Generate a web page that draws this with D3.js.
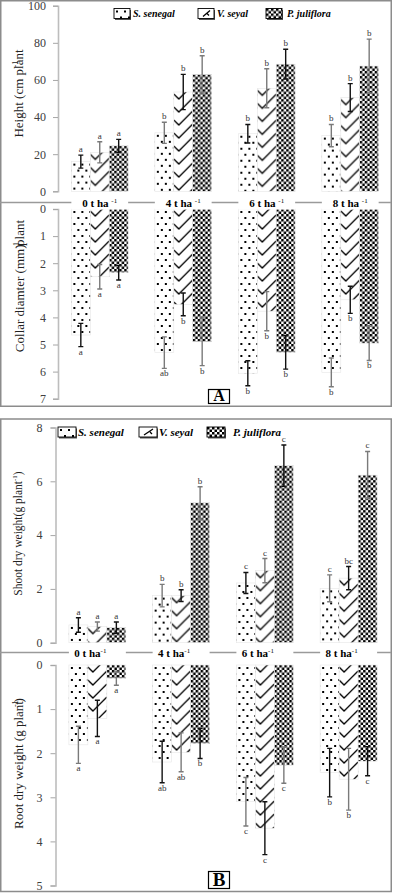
<!DOCTYPE html>
<html>
<head>
<meta charset="utf-8">
<script src="https://cdn.jsdelivr.net/npm/d3@7"></script>
<style>
  body { margin: 0; background: #fff; }
  svg { display: block; font-family: "Liberation Serif", "Times New Roman", serif; }
</style>
</head>
<body>
<div class="container"></div>
<script>
var categories = ["0", "4", "6", "8"];
var species = ["S. senegal", "V. seyal", "P. juliflora"];

// rows = dose (t/ha), columns = species
var heightMean = [[16, 21, 24.5], [31.5, 53.5, 63], [31, 55.5, 68.5], [30, 50.5, 67.5]];
var heightErr = [[3.5, 5.7, 3.5], [5.7, 9.5, 10], [5, 10.5, 8], [6, 7.5, 14.5]];
var heightLetters = [["a", "a", "a"], ["b", "b", "b"], ["b", "b", "b"], ["b", "b", "b"]];

var collarMean = [[4.65, 2.5, 2.35], [5.3, 3.52, 4.9], [6.06, 3.77, 5.29], [6.03, 3.35, 4.95]];
var collarErr = [[0.43, 0.45, 0.27], [0.58, 0.42, 0.88], [0.46, 0.72, 0.62], [0.53, 0.5, 0.64]];
var collarLetters = [["a", "a", "a"], ["ab", "b", "b"], ["b", "b", "b"], ["b", "b", "b"]];

var shootMean = [[0.66, 0.6, 0.56], [1.75, 1.75, 5.2], [2.22, 2.68, 6.58], [2.02, 2.4, 6.23]];
var shootErr = [[0.27, 0.17, 0.21], [0.42, 0.22, 0.6], [0.39, 0.45, 0.77], [0.5, 0.43, 0.88]];
var shootLetters = [["a", "a", "a"], ["b", "b", "b"], ["c", "c", "c"], ["c", "bc", "c"]];

var rootMean = [[1.81, 1.21, 0.3], [2.2, 1.98, 1.78], [3.1, 3.7, 2.27], [2.44, 2.59, 2.18]];
var rootErr = [[0.42, 0.41, 0.16], [0.47, 0.44, 0.34], [0.55, 0.6, 0.41], [0.55, 0.7, 0.33]];
var rootLetters = [["a", "a", "a"], ["ab", "ab", "b"], ["c", "c", "c"], ["b", "b", "c"]];

var heightTicks = [0, 20, 40, 60, 80, 100];
var collarTicks = [0, 1, 2, 3, 4, 5, 6, 7];
var shootTicks = [0, 2, 4, 6, 8];
var rootTicks = [0, 1, 2, 3, 4, 5];

const WIDTH = 393;
const HEIGHT = 893;

var svg = d3.select('.container').append('svg')
    .attr('width', WIDTH)
    .attr('height', HEIGHT);

var defs = svg.append('defs');
var patCount = 0;

// 0 = dots (S. senegal), 1 = check marks (V. seyal), 2 = checker (P. juliflora)
var makePattern = function(kind, x0, y0, w){
    var id = 'pat' + (patCount++);
    var p = defs.append('pattern').attr('id', id)
        .attr('patternUnits', 'userSpaceOnUse')
        .attr('x', x0).attr('y', y0);
    if (kind === 0) {
        p.attr('width', 8).attr('height', 12);
        p.append('rect').attr('width', 8).attr('height', 12).attr('fill', '#fff');
        p.append('rect').attr('x', 2).attr('y', 2).attr('width', 2).attr('height', 2).attr('fill', '#000');
        p.append('rect').attr('x', 6).attr('y', 8).attr('width', 2).attr('height', 2).attr('fill', '#000');
    } else if (kind === 1) {
        p.attr('width', w).attr('height', 13);
        p.append('rect').attr('width', w).attr('height', 13).attr('fill', '#fff');
        p.append('path')
            .attr('d', 'M0,2L5,7L' + w + ',' + (7 - (w - 5)) + 'M0,15L5,20L' + w + ',' + (20 - (w - 5)))
            .attr('fill', 'none').attr('stroke', '#000').attr('stroke-width', 1.3);
    } else {
        p.attr('width', 5).attr('height', 5);
        p.append('rect').attr('width', 5).attr('height', 5).attr('fill', '#fff');
        p.append('rect').attr('width', 2.5).attr('height', 2.5).attr('fill', '#000');
        p.append('rect').attr('x', 2.5).attr('y', 2.5).attr('width', 2.5).attr('height', 2.5).attr('fill', '#000');
    }
    return 'url(#' + id + ')';
};

var drawChart = function(o){
    var x = d3.scaleBand().domain(categories).range(o.xRange).paddingInner(0.32).paddingOuter(0.16);
    var xs = d3.scaleBand().domain(species).range([0, x.bandwidth()]);
    var y = d3.scaleLinear().domain([0, d3.max(o.ticks)]).range(o.yRange);

    var axis = svg.append('g')
        .attr('transform', 'translate(' + o.xRange[0] + ',0)')
        .call(d3.axisLeft(y).tickValues(o.ticks).tickFormat(d3.format('d')).tickSize(5).tickPadding(o.pad))
        .attr('font-family', '"Liberation Serif", serif')
        .attr('font-size', 12);
    axis.select('.domain').attr('stroke', '#bdbdbd').attr('stroke-width', 1.6);
    axis.selectAll('.tick line').attr('stroke', '#a6a6a6');
    axis.selectAll('.tick text').attr('fill', '#404040');

    var rows = [];
    categories.forEach(function(c, i){
        species.forEach(function(s, j){
            rows.push({cat: c, sp: s, k: j, gi: i, v: o.mean[i][j], e: o.err[i][j], l: o.letters[i][j]});
        });
    });

    var g = svg.append('g');
    rows.forEach(function(d){
        var bx = x(d.cat) + xs(d.sp);
        var y0 = y(0), yv = y(d.v);
        g.append('rect')
            .attr('x', bx).attr('width', xs.bandwidth())
            .attr('y', Math.min(y0, yv)).attr('height', Math.abs(yv - y0))
            .attr('fill', makePattern(d.k, bx, Math.min(y0, yv), xs.bandwidth()))
            .attr('stroke', '#e6e6e6').attr('stroke-width', 0.6);
    });

    rows.forEach(function(d){
        var cx = x(d.cat) + xs(d.sp) + xs.bandwidth() / 2;
        var lo = y(d.v - d.e), hi = y(d.v + d.e);
        var col = ((d.gi + d.k + o.parity) % 2) ? '#7a7a7a' : '#111';
        g.append('path')
            .attr('d', 'M' + cx + ',' + lo + 'V' + hi + 'M' + (cx - 2.5) + ',' + lo + 'h5M' + (cx - 2.5) + ',' + hi + 'h5')
            .attr('stroke', col).attr('stroke-width', 1.4).attr('fill', 'none');
        var ty = o.down ? Math.max(lo, hi) + 8 : Math.min(lo, hi) - 3;
        g.append('text')
            .attr('x', cx).attr('y', ty)
            .attr('text-anchor', 'middle')
            .attr('font-size', 9).attr('fill', '#333')
            .text(d.l);
    });
    return x;
};

var drawCatLabels = function(x, yLine, shift, sup){
    svg.append('line')
        .attr('x1', 0).attr('x2', 391).attr('y1', yLine).attr('y2', yLine)
        .attr('stroke', '#9a9a9a').attr('stroke-width', 1.5);
    categories.forEach(function(c){
        svg.append('rect')
            .attr('x', x(c)).attr('y', yLine - 7).attr('width', x.bandwidth()).attr('height', 14)
            .attr('fill', '#fff');
        var t = svg.append('text')
            .attr('x', x(c) + x.bandwidth() / 2 + shift).attr('y', yLine + 4)
            .attr('text-anchor', 'middle').attr('font-weight', 'bold').attr('font-size', 11)
            .text(c + ' t ha' + sup);
        t.append('tspan').attr('dy', -4).attr('font-size', 7).attr('font-weight', 'normal').text('-1');
    });
};

var drawYLabel = function(cx, cy, size, parts){
    var t = svg.append('text')
        .attr('transform', 'translate(' + cx + ',' + cy + ') rotate(-90)')
        .attr('text-anchor', 'middle').attr('font-size', size).attr('fill', '#222');
    parts.forEach(function(p){
        var s = t.append('tspan').text(p.t);
        if (p.dx) s.attr('dx', p.dx);
        if (p.dy) s.attr('dy', p.dy);
        if (p.fs) s.attr('font-size', p.fs);
    });
};

var drawLegend = function(yc, swX, txX, swW, fs){
    species.forEach(function(s, j){
        var top = yc - 5;
        svg.append('rect').attr('x', swX[j] + 1).attr('y', top + 1.5).attr('width', swW).attr('height', 10)
            .attr('fill', '#555');
        svg.append('rect').attr('x', swX[j]).attr('y', top).attr('width', swW).attr('height', 10)
            .attr('fill', j === 1 ? '#fff' : makePattern(j, swX[j], top, swW))
            .attr('stroke', '#000').attr('stroke-width', 0.9);
        if (j === 1) {
            svg.append('path')
                .attr('d', 'M' + (swX[j] + 5) + ',' + (top + 8) + 'L' + (swX[j] + swW - 4) + ',' + (top + 2) + 'M' + (swX[j] + swW - 7) + ',' + (top + 5) + 'l2,2')
                .attr('stroke', '#000').attr('stroke-width', 1.3).attr('fill', 'none');
        }
        svg.append('text')
            .attr('x', txX[j]).attr('y', yc + 3.5)
            .attr('font-size', fs).attr('font-weight', 'bold').attr('font-style', 'italic')
            .text(s);
    });
};

var drawTag = function(x0, y0, h, letter){
    svg.append('rect').attr('x', x0).attr('y', y0).attr('width', 21).attr('height', h)
        .attr('fill', '#fff').attr('stroke', '#000').attr('stroke-width', 1.2);
    svg.append('text').attr('x', x0 + 10.5).attr('y', y0 + h - 2.5)
        .attr('text-anchor', 'middle').attr('font-weight', 'bold').attr('font-size', h + 2)
        .text(letter);
};

// panel frames
svg.append('rect').attr('x', 0.75).attr('y', 0.75).attr('width', 390.5).attr('height', 405.5)
    .attr('fill', 'none').attr('stroke', '#8c8c8c').attr('stroke-width', 1.5);
svg.append('rect').attr('x', 0.75).attr('y', 419).attr('width', 390.5).attr('height', 472.5)
    .attr('fill', 'none').attr('stroke', '#8c8c8c').attr('stroke-width', 1.5);

// panel A
var xA = drawChart({xRange: [58, 392], yRange: [191.3, 5.7], ticks: heightTicks, pad: 7,
    mean: heightMean, err: heightErr, letters: heightLetters, down: false, parity: 0});
drawChart({xRange: [58, 392], yRange: [209, 398.7], ticks: collarTicks, pad: 7,
    mean: collarMean, err: collarErr, letters: collarLetters, down: true, parity: 0});
drawCatLabels(xA, 202.5, 0, ' ');
drawLegend(13.5, [114, 198, 266], [133, 217, 287], 16, 10);
drawYLabel(23, 93.5, 13, [{t: 'Height (cm plant'}, {t: '-1', dx: -18, dy: -5, fs: 8}]);
drawYLabel(23.5, 286, 13, [{t: 'Collar diamter (mm)'}, {t: '-1', dx: -4, dy: -5, fs: 8}, {t: 'plant', dx: -4, dy: 5}]);
drawTag(208.5, 389.5, 14, 'A');

// panel B
var xB = drawChart({xRange: [55.5, 390.5], yRange: [642.7, 427.5], ticks: shootTicks, pad: 8,
    mean: shootMean, err: shootErr, letters: shootLetters, down: false, parity: 0});
drawChart({xRange: [55.5, 390.5], yRange: [665, 885.5], ticks: rootTicks, pad: 8,
    mean: rootMean, err: rootErr, letters: rootLetters, down: true, parity: 1});
drawCatLabels(xB, 652.5, -7, '');
drawLegend(432, [58, 139, 207], [78, 159, 233], 18, 11);
drawYLabel(22, 533.5, 11.5, [{t: 'Shoot dry weight(g plant'}, {t: '-1', dy: -5, fs: 7}, {t: ')', dy: 5}]);
drawYLabel(23, 763.5, 13, [{t: 'Root dry weight (g plant'}, {t: '-1', dx: -6, dy: -5, fs: 8}, {t: ')', dx: -2, dy: 5}]);
drawTag(208.5, 871.5, 17, 'B');
</script>
</body>
</html>
